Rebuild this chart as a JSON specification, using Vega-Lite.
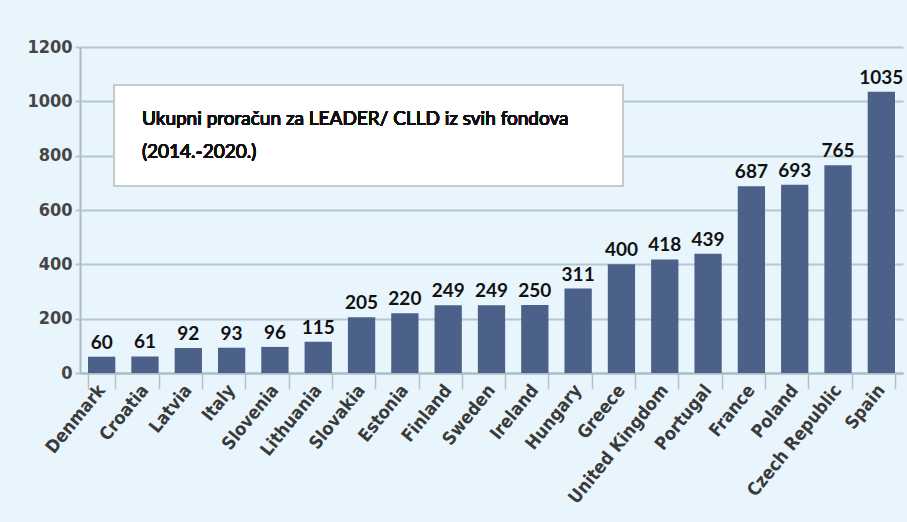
{
  "$schema": "https://vega.github.io/schema/vega-lite/v6.json",
  "width": 823,
  "height": 326,
  "autosize": {"type": "none"},
  "padding": {"left": 80, "top": 47, "right": 4, "bottom": 149},
  "background": "#e9f5fc",
  "config": {
    "view": {"stroke": null},
    "font": "Lato",
    "axisX": {
      "title": null, "labelAngle": -51, "labelFontSize": 18, "labelFontWeight": "bold", "labelColor": "#3a3a3a",
      "labelFont": "DejaVu Sans Condensed, Roboto", "tickBand": "extent", "tickSize": 16, "tickColor": "#b0c2ca", "tickWidth": 1.5,
      "domainColor": "#a9bcc4", "domainWidth": 2, "labelPadding": -2
    },
    "axisY": {
      "title": null, "labelFontSize": 18, "labelFontWeight": "bold", "labelColor": "#454545", "labelFont": "DejaVu Sans Condensed, Roboto",
      "tickSize": 5, "tickColor": "#b3c7cf", "tickWidth": 2, "labelPadding": 3,
      "gridColor": "#b3c7cf", "gridWidth": 2, "domainColor": "#a9bcc4", "domainWidth": 2
    }
  },
  "data": {
    "values": [
      {"country": "Denmark", "budget": 60},
      {"country": "Croatia", "budget": 61},
      {"country": "Latvia", "budget": 92},
      {"country": "Italy", "budget": 93},
      {"country": "Slovenia", "budget": 96},
      {"country": "Lithuania", "budget": 115},
      {"country": "Slovakia", "budget": 205},
      {"country": "Estonia", "budget": 220},
      {"country": "Finland", "budget": 249},
      {"country": "Sweden", "budget": 249},
      {"country": "Ireland", "budget": 250},
      {"country": "Hungary", "budget": 311},
      {"country": "Greece", "budget": 400},
      {"country": "United Kingdom", "budget": 418},
      {"country": "Portugal", "budget": 439},
      {"country": "France", "budget": 687},
      {"country": "Poland", "budget": 693},
      {"country": "Czech Republic", "budget": 765},
      {"country": "Spain", "budget": 1035}
    ]
  },
  "layer": [
    {
      "encoding": {
        "x": {
          "field": "country", "type": "nominal", "sort": null,
          "scale": {"paddingInner": 0.37, "paddingOuter": 0.185},
          "axis": {"title": null}
        },
        "y": {
          "field": "budget", "type": "quantitative",
          "scale": {"domain": [0, 1200], "nice": false},
          "axis": {"title": null, "values": [0, 200, 400, 600, 800, 1000, 1200], "format": "d"}
        }
      },
      "layer": [
        {"mark": {"type": "bar", "color": "#4b6189"}},
        {
          "mark": {"type": "text", "dy": -8, "baseline": "alphabetic", "fontSize": 19, "fontWeight": "bold", "color": "#111111", "font": "Lato"},
          "encoding": {"text": {"field": "budget", "type": "quantitative"}}
        }
      ]
    },
    {
      "layer": [
        {
          "mark": {"type": "rect", "fill": "white", "stroke": "#c3cbcf", "strokeWidth": 2},
          "encoding": {
            "x": {"datum": 0.785, "type": "quantitative", "scale": {"domain": [0, 19], "nice": false, "zero": false}, "axis": null},
            "x2": {"datum": 12.536},
            "y": {"datum": 1060, "type": "quantitative", "axis": {"title": null, "values": [0, 200, 400, 600, 800, 1000, 1200], "format": "d"}},
            "y2": {"datum": 688}
          }
        },
        {
          "mark": {"type": "text", "align": "left", "baseline": "alphabetic", "fontSize": 19, "fontWeight": "normal", "color": "#111111", "font": "Lato", "lineHeight": 33,
            "text": ["Ukupni proračun za LEADER/ CLLD iz svih fondova", "(2014.-2020.)"]},
          "encoding": {
            "x": {"datum": 1.43, "type": "quantitative"},
            "y": {"datum": 913, "type": "quantitative"}
          }
        }
      ]
    }
  ],
  "resolve": {"scale": {"x": "independent"}, "axis": {"x": "independent"}}
}
